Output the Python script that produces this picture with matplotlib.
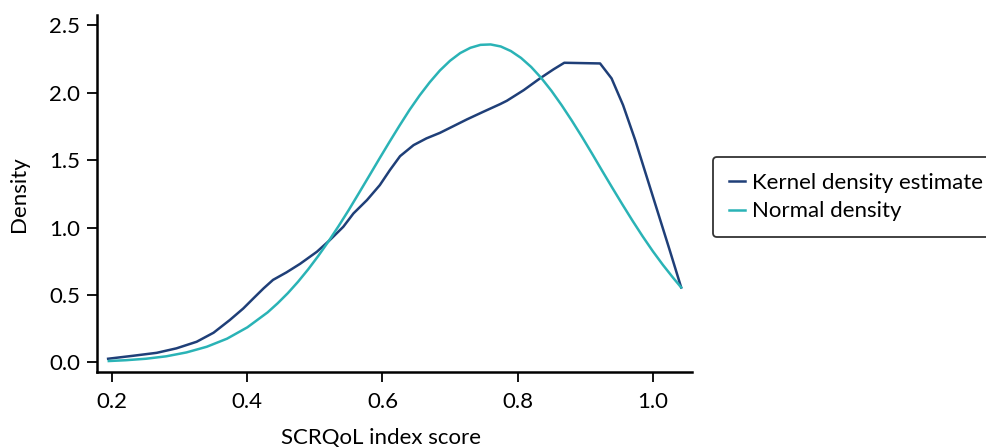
import matplotlib
matplotlib.use('Agg')
import matplotlib.pyplot as plt

plt.rcParams['font.family'] = ['Lato', 'DejaVu Sans']

NAVY = '#1f3f78'
TEAL = '#2ab3b6'

# kernel density estimate
kde_x = [0.194, 0.231, 0.266, 0.295, 0.325, 0.350, 0.374, 0.394, 0.409, 0.424,
         0.438, 0.458, 0.478, 0.503, 0.522, 0.542, 0.557, 0.577, 0.596, 0.611,
         0.626, 0.646, 0.665, 0.685, 0.705, 0.725, 0.749, 0.774, 0.784, 0.809,
         0.833, 0.853, 0.869, 0.922, 0.939, 0.956, 0.974, 0.991, 1.008, 1.025,
         1.042]
kde_y = [0.027, 0.049, 0.071, 0.104, 0.153, 0.220, 0.314, 0.400, 0.475, 0.549,
         0.612, 0.668, 0.731, 0.821, 0.907, 1.006, 1.105, 1.204, 1.315, 1.427,
         1.530, 1.612, 1.662, 1.703, 1.753, 1.803, 1.859, 1.916, 1.941, 2.020,
         2.107, 2.174, 2.223, 2.218, 2.107, 1.909, 1.649, 1.377, 1.105, 0.833,
         0.556]

# normal density
norm_x = [0.195, 0.22, 0.25, 0.28, 0.31, 0.34, 0.37, 0.40, 0.43, 0.445,
          0.46, 0.475, 0.49, 0.505, 0.52, 0.535, 0.55, 0.565, 0.58, 0.595,
          0.61, 0.625, 0.64, 0.655, 0.67, 0.685, 0.70, 0.715, 0.73, 0.745,
          0.76, 0.775, 0.79, 0.805, 0.82, 0.835, 0.85, 0.865, 0.88, 0.895,
          0.91, 0.925, 0.94, 0.955, 0.97, 0.985, 1.00, 1.015, 1.03, 1.042]
norm_y = [0.010, 0.016, 0.027, 0.045, 0.074, 0.116, 0.176, 0.260, 0.371, 0.439,
          0.514, 0.598, 0.690, 0.790, 0.897, 1.011, 1.130, 1.255, 1.381, 1.508,
          1.633, 1.755, 1.873, 1.981, 2.079, 2.166, 2.238, 2.295, 2.334, 2.356,
          2.359, 2.344, 2.310, 2.259, 2.192, 2.110, 2.015, 1.909, 1.795, 1.675,
          1.550, 1.422, 1.296, 1.172, 1.051, 0.935, 0.825, 0.723, 0.628, 0.556]

xticks = [0.2, 0.4, 0.6, 0.8, 1.0]
yticks = [0.0, 0.5, 1.0, 1.5, 2.0, 2.5]

fig = plt.figure(figsize=(9.87, 4.47), dpi=100)
ax = fig.add_axes([0.0986, 0.167, 0.6025, 0.799])

ax.plot(kde_x, kde_y, color=NAVY, lw=1.8, label='Kernel density estimate')
ax.plot(norm_x, norm_y, color=TEAL, lw=1.8, label='Normal density')

ax.set_xlim(0.178, 1.058)
ax.set_ylim(-0.074, 2.576)
ax.set_xticks(xticks)
ax.set_xticklabels(['{:.1f}'.format(t) for t in xticks])
ax.set_yticks(yticks)
ax.set_yticklabels(['{:.1f}'.format(t) for t in yticks])

for side in ['top', 'right']:
    ax.spines[side].set_visible(False)
for side in ['left', 'bottom']:
    ax.spines[side].set_linewidth(1.8)
ax.tick_params(axis='both', labelsize=16, length=7.5, width=1.3, color='black')
ax.tick_params(axis='x', pad=7)
ax.tick_params(axis='y', pad=5)

ax.set_xlabel('SCRQoL index score', fontsize=16)
ax.set_ylabel('Density', fontsize=16)
ax.xaxis.set_label_coords(0.477, -0.155)
ax.yaxis.set_label_coords(-0.115, 0.5)

leg = fig.legend(loc='upper left', bbox_to_anchor=(0.7224, 0.6488), borderaxespad=0,
                 fontsize=16, frameon=True, fancybox=True, handlelength=0.7,
                 handletextpad=0.35, labelspacing=0.38, borderpad=0.72)
leg.get_frame().set_edgecolor('black')
leg.get_frame().set_linewidth(1.3)

plt.savefig('out.png', dpi=100)
